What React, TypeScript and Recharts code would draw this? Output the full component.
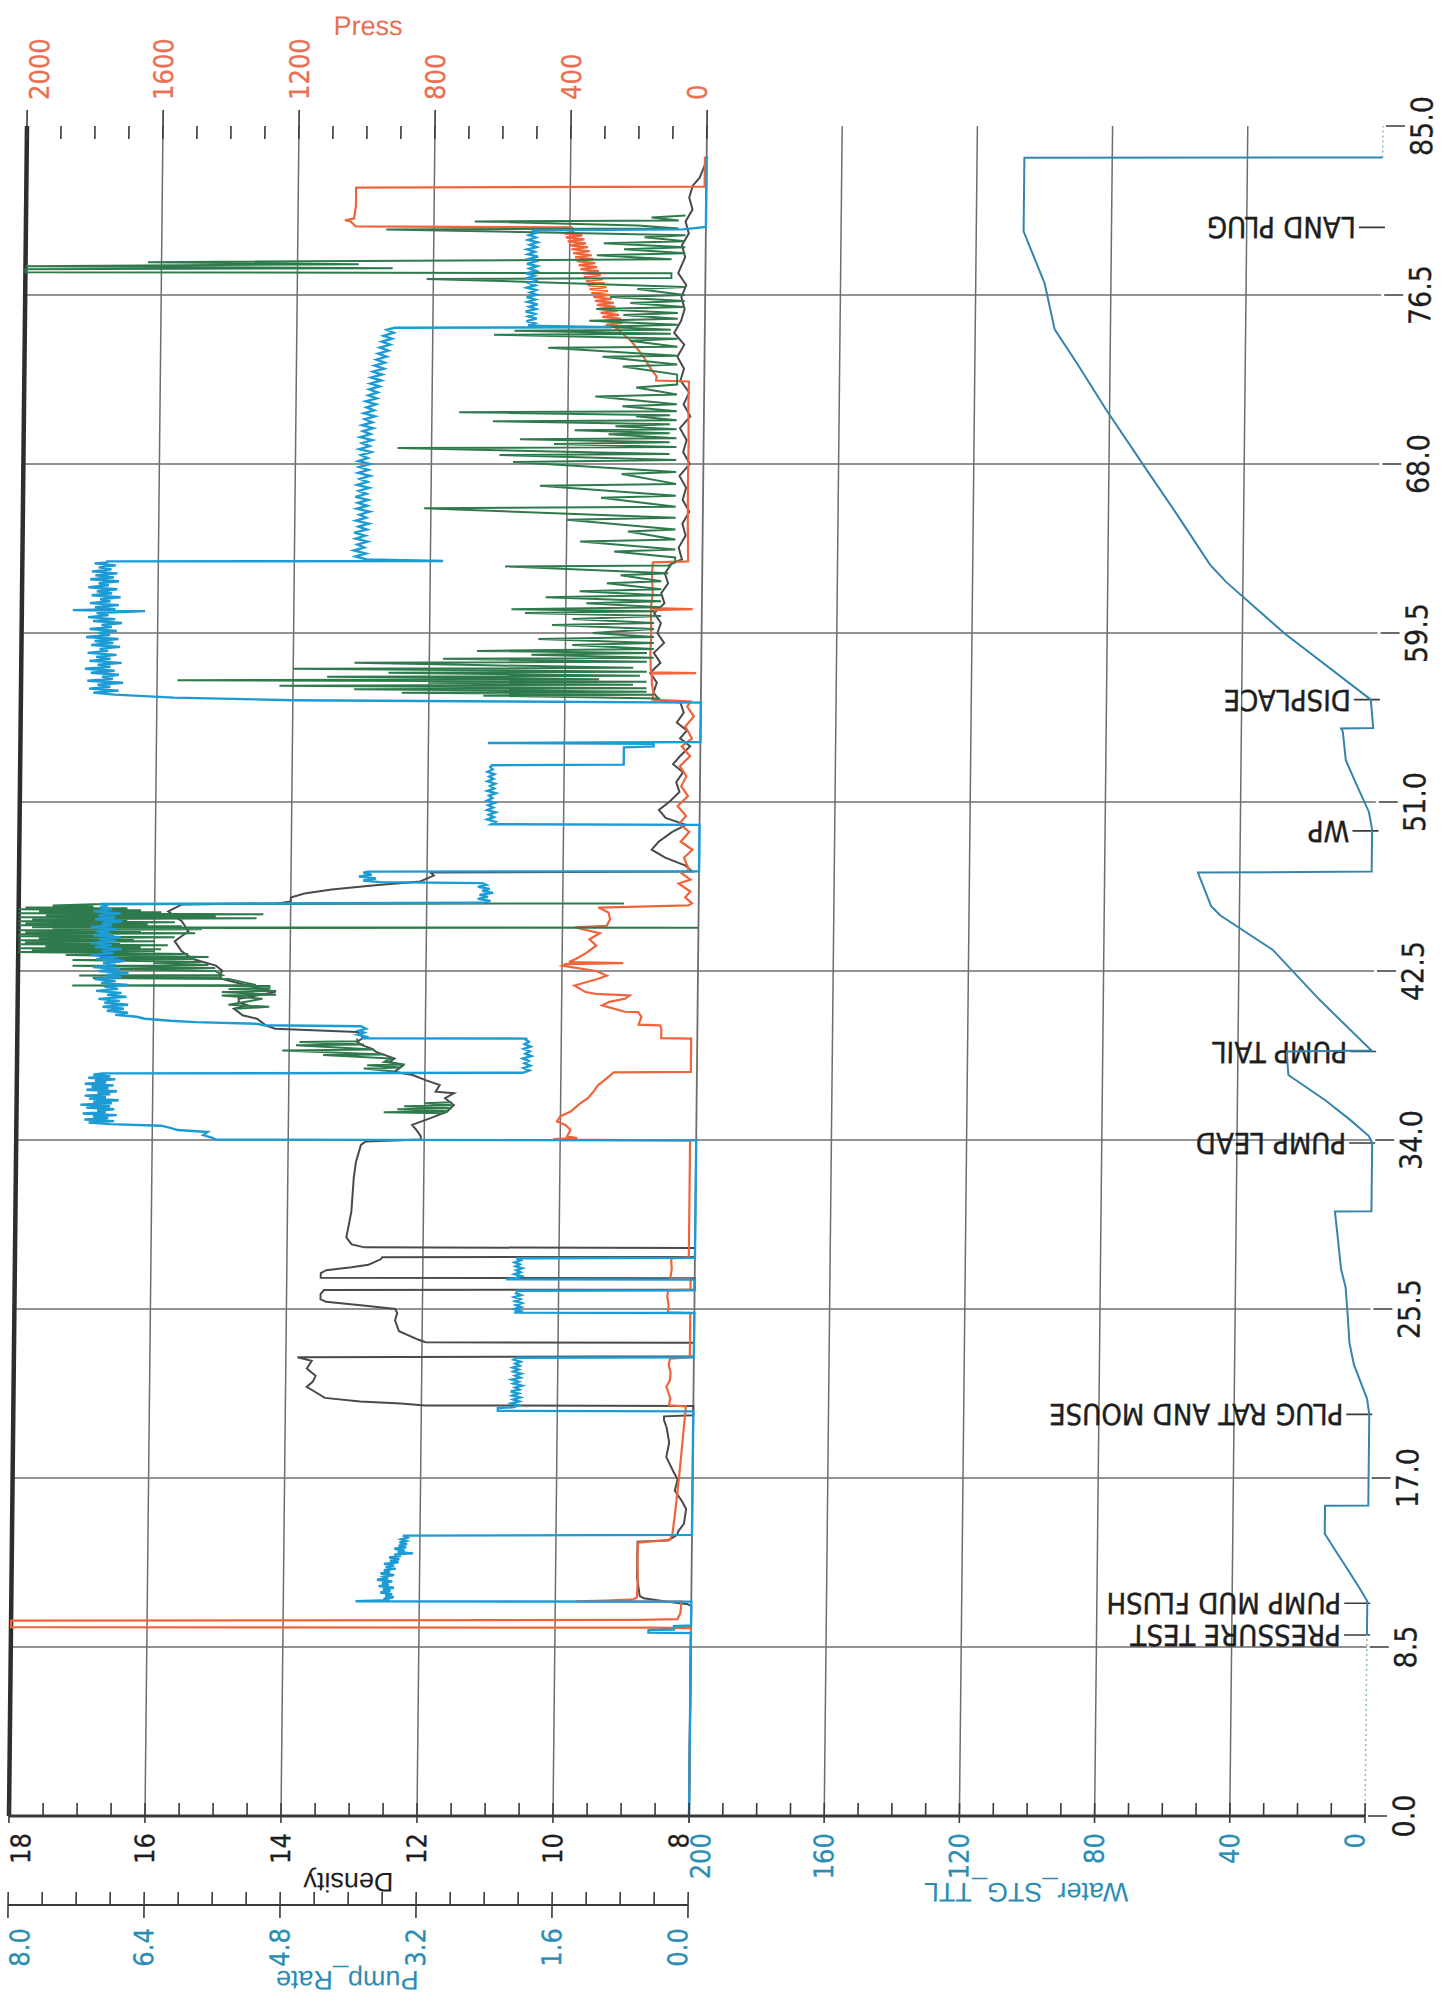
import React from "react";
import { LineChart, Line, XAxis, YAxis, ReferenceLine } from "recharts";

// ---- axes ----
const timeTicks = [0, 8.5, 17, 25.5, 34, 42.5, 51, 59.5, 68, 76.5, 85];
const gridTimes = [8.5, 17, 25.5, 34, 42.5, 51, 59.5, 68, 76.5];
const densTicks = [8, 8.5, 9, 9.5, 10, 10.5, 11, 11.5, 12, 12.5, 13, 13.5, 14, 14.5, 15, 15.5, 16, 16.5, 17, 17.5, 18];
const densGrid = [10, 12, 14, 16];
const pumpTicks = [0, 0.4, 0.8, 1.2, 1.6, 2, 2.4, 2.8, 3.2, 3.6, 4, 4.4, 4.8, 5.2, 5.6, 6, 6.4, 6.8, 7.2, 7.6, 8];
const pressTicks = [0, 100, 200, 300, 400, 500, 600, 700, 800, 900, 1000, 1100, 1200, 1300, 1400, 1500, 1600, 1700, 1800, 1900, 2000];
const waterTicks = [0, 10, 20, 30, 40, 50, 60, 70, 80, 90, 100, 110, 120, 130, 140, 150, 160, 170, 180, 190, 200];
const waterGrid = [40, 80, 120, 160];

const events = [
  { t: 9.1, label: "PRESSURE TEST" },
  { t: 10.7, label: "PUMP MUD FLUSH" },
  { t: 20.2, label: "PLUG RAT AND MOUSE" },
  { t: 33.85, label: "PUMP LEAD" },
  { t: 38.45, label: "PUMP TAIL" },
  { t: 49.55, label: "WP" },
  { t: 56.15, label: "DISPLACE" },
  { t: 79.9, label: "LAND PLUG" },
];

// ---- series: [time, value] ----
const pumpPts = [
  [0, 0], [9.2, 0], [9.22, 0.5], [9.35, 0.5], [9.38, 0.2], [9.55, 0.2], [9.58, 0], [10.78, 0],
  [10.8, 3.95], [10.86, 3.55], [10.93, 3.62], [11.0, 3.5], [11.08, 3.6], [11.16, 3.52], [11.24, 3.66], [11.32, 3.54],
  [11.4, 3.63], [11.48, 3.5], [11.56, 3.68], [11.64, 3.56], [11.72, 3.64], [11.8, 3.52], [11.88, 3.7], [11.96, 3.57],
  [12.04, 3.62], [12.12, 3.5], [12.2, 3.66], [12.28, 3.55], [12.36, 3.62], [12.44, 3.48], [12.52, 3.6], [12.6, 3.5],
  [12.68, 3.62], [12.76, 3.45], [12.84, 3.55], [12.92, 3.44], [13.0, 3.56], [13.08, 3.42], [13.16, 3.5], [13.21, 3.28],
  [13.28, 3.46], [13.36, 3.38], [13.44, 3.5], [13.52, 3.36], [13.6, 3.45], [13.68, 3.35], [13.76, 3.44], [13.84, 3.36],
  [13.92, 3.42], [14.0, 3.35], [14.1, 3.4], [14.14, 0],
  [20.35, 0], [20.38, 2.3], [20.52, 2.3], [20.56, 2.12], [20.65, 2.06], [20.75, 2.14], [20.85, 2.05], [20.95, 2.12],
  [21.05, 2.04], [21.15, 2.13], [21.25, 2.06], [21.35, 2.15], [21.45, 2.05], [21.55, 2.1], [21.65, 2.02], [21.75, 2.12],
  [21.85, 2.06], [21.95, 2.14], [22.05, 2.04], [22.15, 2.1], [22.25, 2.03], [22.35, 2.12], [22.45, 2.06], [22.55, 2.13],
  [22.65, 2.05], [22.75, 2.1], [22.85, 2.04], [22.95, 2.12], [23.05, 2.08], [23.07, 0],
  [25.3, 0], [25.32, 2.12], [25.4, 2.05], [25.5, 2.12], [25.6, 2.04], [25.7, 2.1], [25.8, 2.03], [25.9, 2.11],
  [26.0, 2.05], [26.1, 2.12], [26.2, 2.04], [26.3, 2.1], [26.42, 2.08], [26.44, 0],
  [26.98, 0], [27.0, 2.22], [27.06, 2.1], [27.15, 2.04], [27.25, 2.12], [27.35, 2.05], [27.45, 2.1], [27.55, 2.03],
  [27.65, 2.11], [27.75, 2.06], [27.85, 2.12], [27.95, 2.05], [28.05, 2.1], [28.08, 0],
  [33.98, 0], [34.02, 5.65], [34.12, 5.7], [34.25, 5.8], [34.4, 5.75], [34.5, 6.1], [34.62, 6.2], [34.72, 6.3],
  [34.8, 6.9], [34.88, 7.15], [34.95, 6.85], [35.03, 7.2], [35.1, 6.92], [35.18, 7.1], [35.25, 6.82], [35.33, 7.22],
  [35.4, 6.95], [35.48, 7.05], [35.55, 6.85], [35.63, 7.18], [35.7, 6.9], [35.78, 7.25], [35.85, 6.88], [35.93, 7.1],
  [36.0, 6.8], [36.08, 7.15], [36.15, 6.95], [36.23, 7.2], [36.3, 6.9], [36.38, 7.05], [36.45, 6.82], [36.53, 7.18],
  [36.6, 6.92], [36.68, 7.12], [36.75, 6.86], [36.83, 7.2], [36.9, 6.95], [36.98, 7.08], [37.05, 6.84], [37.13, 7.16],
  [37.2, 6.9], [37.28, 7.1], [37.35, 7.0],
  [37.38, 2.05], [37.5, 1.97], [37.62, 2.04], [37.74, 1.96], [37.86, 2.03], [37.98, 1.98], [38.1, 2.05], [38.22, 1.95],
  [38.34, 2.02], [38.46, 1.97], [38.58, 2.04], [38.7, 1.96], [38.82, 2.03], [38.94, 1.98], [39.06, 2.02], [39.1, 2.0],
  [39.12, 3.95], [39.2, 3.9], [39.3, 4.0], [39.4, 3.92], [39.5, 3.98], [39.6, 3.9], [39.72, 3.96], [39.77, 5.1],
  [39.85, 5.2], [39.93, 5.9], [40.0, 6.2], [40.1, 6.5],
  [40.2, 6.6], [40.3, 6.85], [40.4, 6.7], [40.5, 6.95], [40.6, 6.75], [40.7, 7.0], [40.8, 6.7], [40.9, 6.98],
  [41.0, 6.8], [41.1, 7.05], [41.2, 6.72], [41.3, 6.95], [41.4, 6.78], [41.5, 7.08], [41.6, 6.82], [41.7, 6.98],
  [41.8, 6.7], [41.9, 7.02], [42.0, 6.85], [42.1, 7.1], [42.2, 6.78], [42.3, 6.96], [42.4, 6.7], [42.5, 7.05],
  [42.6, 6.8], [42.7, 7.12], [42.8, 6.85], [42.9, 7.0], [43.0, 6.75], [43.1, 7.08], [43.2, 6.82], [43.3, 7.14],
  [43.4, 6.88], [43.5, 7.02], [43.6, 6.78], [43.7, 7.1], [43.8, 6.9], [43.9, 7.15], [44.0, 6.85], [44.1, 7.05],
  [44.2, 6.8], [44.3, 7.12], [44.4, 6.92], [44.5, 7.08], [44.6, 6.84], [44.7, 7.15], [44.8, 6.9], [44.9, 7.02],
  [45.0, 6.78], [45.1, 7.1], [45.2, 6.86], [45.3, 7.06], [45.4, 6.8], [45.5, 7.12], [45.6, 6.9], [45.7, 7.04],
  [45.8, 6.95], [45.87, 7.05],
  [45.93, 2.55], [46.03, 2.45], [46.13, 2.6], [46.23, 2.48], [46.33, 2.58], [46.43, 2.42], [46.53, 2.55], [46.63, 2.46],
  [46.73, 2.6], [46.83, 2.5], [46.92, 2.55], [46.97, 3.75], [47.05, 3.95], [47.15, 3.8], [47.25, 4.0], [47.35, 3.85],
  [47.45, 3.95], [47.5, 3.9], [47.52, 0],
  [49.85, 0], [49.88, 2.45], [50.0, 2.4], [50.12, 2.5], [50.24, 2.42], [50.36, 2.48], [50.48, 2.4], [50.6, 2.5],
  [50.72, 2.43], [50.84, 2.49], [50.96, 2.41], [51.08, 2.5], [51.2, 2.44], [51.32, 2.48], [51.44, 2.4], [51.56, 2.5],
  [51.68, 2.42], [51.8, 2.47], [51.92, 2.41], [52.04, 2.5], [52.16, 2.43], [52.28, 2.48], [52.4, 2.42], [52.52, 2.5],
  [52.64, 2.44], [52.76, 2.47], [52.85, 2.45], [52.88, 0.9], [53.75, 0.9], [53.8, 0.55], [53.93, 0.55], [53.97, 2.5],
  [54.02, 0],
  [56.0, 0], [56.12, 4.8], [56.25, 6.2], [56.4, 6.9], [56.5, 7.15], [56.6, 6.85], [56.7, 7.2], [56.8, 6.95],
  [56.9, 7.1], [57.0, 6.8], [57.1, 7.22], [57.2, 6.92], [57.3, 7.05], [57.4, 6.85], [57.5, 7.18], [57.6, 6.9],
  [57.7, 7.25], [57.8, 6.95], [57.9, 7.1], [58.0, 6.82], [58.1, 7.2], [58.2, 6.95], [58.3, 7.12], [58.4, 6.88],
  [58.5, 7.22], [58.6, 6.98], [58.7, 7.08], [58.8, 6.84], [58.9, 7.18], [59.0, 6.92], [59.1, 7.14], [59.2, 6.86],
  [59.3, 7.24], [59.4, 6.96], [59.5, 7.1], [59.6, 6.88], [59.7, 7.2], [59.8, 6.94], [59.9, 7.06], [60.0, 6.82],
  [60.1, 7.16], [60.2, 6.9], [60.3, 7.22], [60.4, 6.98], [60.5, 7.12], [60.6, 6.55], [60.65, 7.4], [60.7, 6.9],
  [60.8, 7.14], [60.9, 6.86], [61.0, 7.2], [61.1, 6.96], [61.2, 7.08], [61.3, 6.84], [61.4, 7.18], [61.5, 6.94],
  [61.6, 7.12], [61.7, 6.88], [61.8, 7.22], [61.9, 6.98], [62.0, 7.1], [62.1, 6.86], [62.2, 7.2], [62.3, 6.92],
  [62.4, 7.14], [62.5, 6.88], [62.6, 7.18], [62.7, 6.95], [62.8, 7.1], [62.9, 6.9], [63.0, 7.15], [63.05, 7.0],
  [63.1, 7.0], [63.12, 3.05], [63.2, 3.95], [63.35, 4.08], [63.5, 3.96], [63.65, 4.1], [63.8, 3.98], [63.95, 4.06],
  [64.1, 3.94], [64.25, 4.08], [64.4, 3.97], [64.55, 4.1], [64.7, 3.95], [64.85, 4.05], [65.0, 3.93], [65.15, 4.08],
  [65.3, 3.96], [65.45, 4.04], [65.6, 3.92], [65.75, 4.07], [65.9, 3.95], [66.05, 4.06], [66.2, 3.94], [66.35, 4.09],
  [66.5, 3.96], [66.65, 4.05], [66.8, 3.93], [66.95, 4.07], [67.1, 3.95], [67.25, 4.04], [67.4, 3.92], [67.55, 4.06],
  [67.7, 3.94], [67.85, 4.05], [68.0, 3.92], [68.15, 4.06], [68.3, 3.95], [68.45, 4.03], [68.6, 3.91], [68.75, 4.05],
  [68.9, 3.93], [69.05, 4.02], [69.2, 3.9], [69.35, 4.04], [69.5, 3.92], [69.65, 4.01], [69.8, 3.89], [69.95, 4.02],
  [70.1, 3.9], [70.25, 3.99], [70.4, 3.87], [70.55, 4.0], [70.7, 3.88], [70.85, 3.97], [71.0, 3.86], [71.15, 3.98],
  [71.3, 3.85], [71.45, 3.95], [71.6, 3.84], [71.75, 3.94], [71.9, 3.82], [72.05, 3.93], [72.2, 3.8], [72.35, 3.92],
  [72.5, 3.79], [72.65, 3.9], [72.8, 3.77], [72.95, 3.88], [73.1, 3.76], [73.25, 3.86], [73.4, 3.74], [73.55, 3.84],
  [73.7, 3.72], [73.85, 3.82], [74.0, 3.7], [74.15, 3.8], [74.3, 3.68], [74.45, 3.78], [74.6, 3.66], [74.75, 3.74],
  [74.85, 3.65], [74.88, 1.1], [74.95, 2.08], [75.07, 2.0], [75.19, 2.1], [75.31, 1.98], [75.43, 2.08], [75.55, 2.0],
  [75.67, 2.11], [75.79, 1.99], [75.91, 2.07], [76.03, 1.97], [76.15, 2.09], [76.27, 2.0], [76.39, 2.1], [76.51, 1.98],
  [76.63, 2.06], [76.75, 1.99], [76.87, 2.1], [76.99, 2.0], [77.11, 2.08], [77.23, 1.97], [77.35, 2.09], [77.47, 2.01],
  [77.59, 2.11], [77.71, 1.99], [77.83, 2.07], [77.95, 1.98], [78.07, 2.1], [78.19, 2.0], [78.31, 2.08], [78.43, 1.97],
  [78.55, 2.09], [78.67, 2.01], [78.79, 2.1], [78.91, 1.99], [79.03, 2.07], [79.15, 1.98], [79.27, 2.09], [79.39, 2.0],
  [79.51, 2.08], [79.63, 1.99], [79.75, 2.05], [79.8, 0.27], [79.92, 0], [83.45, 0],
];

const pressPts = [
  [0, 0], [9.45, 0], [9.47, 120], [9.5, 2000], [9.83, 2000], [9.86, 150], [9.9, 40], [10.2, 32], [10.5, 30], [10.78, 30],
  [10.8, 340], [10.84, 250], [10.9, 170], [11.0, 160], [12.0, 158], [13.0, 160], [13.75, 158], [13.82, 110], [13.9, 65],
  [14.14, 58], [15.0, 52], [16.0, 46], [17.0, 40], [18.0, 35], [19.0, 30], [20.0, 25], [20.6, 22], [20.66, 72],
  [21.0, 68], [21.3, 74], [21.6, 80], [21.9, 70], [22.3, 68], [22.7, 74], [23.0, 70], [23.08, 12], [25.3, 12],
  [25.33, 78], [25.7, 76], [26.1, 80], [26.44, 78], [26.47, 12], [27.0, 12], [27.03, 72], [27.5, 68], [28.05, 70],
  [28.1, 18], [33.98, 18], [34.01, 300], [34.05, 420], [34.1, 350], [34.18, 380], [34.5, 370], [34.76, 385], [34.93, 410],
  [35.2, 400], [35.43, 370], [35.8, 345], [36.1, 320], [36.4, 305], [36.76, 290], [37.1, 265], [37.4, 245], [37.43, 18],
  [39.1, 18], [39.12, 106], [39.6, 106], [39.77, 110], [39.8, 173], [40.2, 165], [40.43, 175], [40.45, 214], [40.77, 281],
  [40.95, 260], [41.1, 214], [41.27, 200], [41.35, 300], [41.44, 330], [41.77, 363], [42.1, 295], [42.27, 268], [42.5, 300],
  [42.77, 400], [42.85, 390], [42.9, 220], [42.95, 380], [43.1, 360], [43.4, 330], [43.77, 300], [44.1, 320], [44.4, 290],
  [44.69, 363], [44.77, 270], [45.1, 260], [45.44, 265], [45.69, 295], [45.8, 30], [45.9, 20], [46.2, 40], [46.5, 25],
  [46.9, 60], [47.1, 25], [47.4, 50], [47.6, 30], [48.2, 45], [48.6, 20], [49.0, 55], [49.5, 30], [49.9, 60], [50.3, 40],
  [50.8, 65], [51.3, 35], [51.8, 55], [52.3, 40], [52.8, 60], [53.3, 30], [53.8, 55], [54.2, 25], [54.8, 45], [55.3, 20],
  [55.8, 40], [56.05, 30], [56.15, 142], [56.5, 140], [57.0, 145], [57.45, 145], [57.48, 15], [57.52, 148], [58.5, 150],
  [59.5, 148], [60.65, 150], [60.7, 27], [60.75, 150], [61.5, 145], [62.5, 148], [63.05, 145], [63.1, 42], [65.0, 44],
  [67.0, 45], [69.0, 44], [71.0, 46], [72.15, 45], [72.2, 142], [72.4, 140], [72.8, 158], [73.3, 176], [73.8, 198],
  [74.2, 217], [74.6, 245], [74.87, 262],
  [74.9, 236], [75.0, 291], [75.1, 242], [75.2, 296], [75.3, 247], [75.4, 302], [75.5, 253], [75.6, 307], [75.7, 258],
  [75.8, 313], [75.9, 264], [76.0, 318], [76.1, 269], [76.2, 324], [76.3, 275], [76.4, 329], [76.5, 280], [76.6, 335],
  [76.7, 286], [76.8, 340], [76.9, 291], [77.0, 346], [77.1, 297], [77.2, 351], [77.3, 302], [77.4, 357], [77.5, 308],
  [77.6, 362], [77.7, 313], [77.8, 368], [77.9, 319], [78.0, 373], [78.1, 324], [78.2, 379], [78.3, 330], [78.4, 384],
  [78.5, 335], [78.6, 390], [78.7, 341], [78.8, 395], [78.9, 346], [79.0, 401], [79.1, 352], [79.2, 406], [79.3, 357],
  [79.4, 412], [79.5, 363], [79.6, 416], [79.7, 390], [79.9, 395], [79.95, 1030], [80.2, 1045], [80.26, 1062],
  [80.35, 1035], [81.0, 1030], [81.9, 1030], [81.95, 5], [83.45, 5],
];

const densPts = [
  [0, 8], [10.55, 8], [10.65, 8.05], [10.8, 8.4], [10.95, 8.7], [11.07, 8.76], [12.0, 8.8], [13.0, 8.8], [13.8, 8.8],
  [13.86, 8.35], [14.14, 8.22], [14.33, 8.2], [14.7, 8.12], [15.44, 8.09], [15.82, 8.15], [16.37, 8.26], [16.93, 8.22],
  [17.3, 8.28], [18.05, 8.39], [18.79, 8.35], [19.54, 8.39], [19.91, 8.43], [20.1, 8.43], [20.15, 8], [20.62, 8],
  [20.65, 11.95], [20.75, 12.3], [20.85, 12.9], [21.03, 13.42], [21.3, 13.55], [21.58, 13.69], [21.85, 13.6], [22.14, 13.56],
  [22.51, 13.69], [22.89, 13.62], [23.07, 13.83], [23.12, 8], [23.8, 8], [23.83, 11.95], [23.95, 12.05], [24.38, 12.34],
  [24.93, 12.4], [25.31, 12.37], [25.5, 12.4], [25.65, 12.8], [25.86, 13.42], [26.0, 13.5], [26.25, 13.5], [26.45, 13.45],
  [26.48, 8], [27.05, 8], [27.07, 13.5], [27.3, 13.5], [27.45, 13.42], [27.6, 13.05], [27.73, 12.8], [28.0, 12.62],
  [28.1, 12.6], [28.13, 8], [28.57, 8], [28.6, 12.86], [28.75, 13.05], [29.1, 13.13], [30.4, 13.06], [32.1, 13.03],
  [32.9, 13.0], [33.75, 12.93], [33.93, 12.86], [34.02, 12.05], [34.18, 12.05], [34.43, 12.1], [34.76, 12.18], [35.1, 11.91],
  [35.43, 11.67], [35.76, 11.57], [36.1, 11.7], [36.35, 11.57], [36.43, 11.84], [36.76, 11.78], [37.0, 11.98], [37.27, 12.18],
  [37.43, 12.45], [37.6, 12.38], [37.76, 12.32], [37.93, 12.52], [38.1, 12.45], [38.27, 12.59], [38.43, 12.72], [38.6, 12.79],
  [38.77, 12.93], [38.93, 13.0], [39.1, 12.93], [39.27, 12.93], [39.43, 13.0], [39.6, 14.21], [39.77, 14.35], [39.93, 14.41],
  [40.1, 14.48], [40.27, 14.69], [40.43, 14.75], [40.6, 14.82], [40.77, 14.62], [40.93, 14.75], [41.1, 14.75], [41.44, 14.21],
  [41.77, 14.62], [42.1, 15.0], [42.27, 15.03], [42.52, 15.0], [42.77, 15.09], [43.1, 15.43], [43.5, 15.6], [44.0, 15.7],
  [44.5, 15.5], [45.0, 15.6], [45.5, 15.8], [45.85, 15.6], [45.9, 14.2], [46.0, 14.0], [46.2, 14.0], [46.4, 13.8],
  [46.6, 13.4], [46.8, 12.8], [47.0, 12.1], [47.3, 11.9], [47.45, 11.95], [47.5, 8.1], [47.8, 8.2], [48.2, 8.5],
  [48.6, 8.7], [49.0, 8.6], [49.5, 8.4], [49.85, 8.2], [50.2, 8.5], [50.6, 8.6], [51.0, 8.45], [51.5, 8.3], [52.0, 8.35],
  [52.5, 8.25], [52.9, 8.4], [53.3, 8.3], [53.8, 8.15], [54.2, 8.3], [54.6, 8.2], [55.0, 8.35], [55.5, 8.25], [56.0, 8.3],
  [56.1, 8.6], [56.5, 8.7], [57.0, 8.65], [57.5, 8.75], [58.0, 8.6], [58.5, 8.7], [59.0, 8.55], [59.5, 8.65], [60.0, 8.6],
  [60.5, 8.7], [61.0, 8.55], [61.5, 8.6], [62.0, 8.5], [62.5, 8.55], [63.0, 8.45], [63.2, 8.3], [63.8, 8.35], [64.4, 8.25],
  [65.0, 8.3], [65.6, 8.2], [66.2, 8.3], [66.8, 8.25], [67.4, 8.35], [68.0, 8.2], [68.6, 8.3], [69.2, 8.25], [69.8, 8.35],
  [70.4, 8.2], [71.0, 8.3], [71.6, 8.22], [72.2, 8.35], [72.8, 8.3], [73.4, 8.4], [74.0, 8.3], [74.6, 8.45], [75.2, 8.35],
  [75.8, 8.3], [76.4, 8.35], [77.0, 8.28], [77.6, 8.4], [78.4, 8.3], [79.0, 8.35], [79.6, 8.25], [80.2, 8.3], [80.8, 8.2],
  [81.4, 8.25], [82.0, 8.2], [82.4, 8.1], [83.0, 8.03], [83.45, 8.0],
];

const greenPts = [
  [35.35, 11.7], [35.4, 12.6], [35.45, 11.65], [35.55, 12.4], [35.6, 11.6], [35.7, 12.3], [35.75, 11.6], [35.85, 12.0], [35.9, 11.6], [35.92, null],
  [37.45, 12.45], [37.6, 12.9], [37.65, 12.35], [37.76, 12.85], [37.8, 12.3], [37.93, 12.6], [38.1, 12.5], [38.27, 13.5],
  [38.3, 12.6], [38.5, 14.1], [38.55, 12.75], [38.77, 13.9], [38.8, 12.9], [38.93, 13.85], [38.97, 13.0], [39.1, 13.0], [39.12, null],
  [40.6, 14.8], [40.7, 14.3], [40.8, 14.9], [41.1, 14.4], [41.27, 15.0], [41.3, 14.2], [41.44, 15.0], [41.5, 14.2], [41.6, 14.9], [41.65, 14.3],
  [41.75, 14.3], [41.77, 17.2], [41.8, 14.5], [42.1, 14.9], [42.15, 16.9], [42.2, 15.0], [42.27, 17.1], [42.3, 15.0],
  [42.5, 15.1], [42.6, 16.6], [42.65, 15.1], [42.77, 17.2], [42.8, 15.2], [42.9, 16.0], [42.95, 15.3], [43.05, 17.2],
  [43.1, 15.4], [43.15, 16.8], [43.2, 15.2], [43.3, 17.3], [43.35, 15.5], [43.45, 18.0], [43.5, 16.0], [43.55, 17.8],
  [43.6, 15.9], [43.65, 18.0], [43.7, 16.2], [43.75, 17.6], [43.8, 15.8], [43.85, 18.0], [43.9, 16.5], [43.95, 17.9],
  [44.0, 16.0], [44.05, 18.0], [44.1, 16.3], [44.15, 17.7], [44.2, 15.7], [44.25, 18.0], [44.3, 16.6], [44.35, 18.0],
  [44.4, 15.4], [44.45, 17.9], [44.5, 16.2], [44.55, 18.0], [44.6, 15.3], [44.65, 17.5], [44.68, 8.0], [44.7, 17.8],
  [44.75, 15.6], [44.8, 18.0], [44.85, 16.1], [44.9, 17.9], [44.95, 15.7], [45.0, 18.0], [45.05, 16.4], [45.1, 17.8],
  [45.15, 14.5], [45.2, 18.0], [45.25, 15.1], [45.3, 17.6], [45.35, 14.4], [45.4, 18.0], [45.45, 15.9], [45.5, 17.7],
  [45.55, 16.2], [45.6, 18.0], [45.65, 16.4], [45.7, 17.9], [45.75, 16.9], [45.8, 17.5], [45.86, 16.9], [45.9, 9.1], [45.92, null],
  [56.2, 8.6], [56.35, 11.2], [56.4, 8.7], [56.5, 12.4], [56.55, 8.8], [56.67, 13.1], [56.72, 8.8], [56.85, 14.2],
  [56.9, 9.0], [57.0, 12.0], [57.05, 8.8], [57.12, 15.7], [57.18, 9.5], [57.3, 13.5], [57.35, 8.9], [57.5, 12.6],
  [57.55, 8.8], [57.7, 14.0], [57.75, 9.0], [57.9, 11.5], [58.0, 13.1], [58.05, 8.8], [58.2, 11.8], [58.25, 8.7],
  [58.4, 10.5], [58.5, 8.8], [58.6, 11.3], [58.7, 8.7], [58.9, 9.9], [59.0, 8.7], [59.2, 10.4], [59.3, 8.7],
  [59.5, 9.6], [59.7, 8.7], [59.9, 10.2], [60.0, 8.7], [60.2, 9.9], [60.35, 8.6], [60.5, 10.6], [60.6, 8.7],
  [60.7, 10.8], [60.8, 8.6], [61.0, 9.7], [61.1, 8.6], [61.3, 10.3], [61.4, 8.6], [61.6, 9.8], [61.7, 8.6],
  [62.0, 9.4], [62.1, 8.6], [62.4, 9.2], [62.5, 8.5], [62.85, 10.9], [62.9, 8.5], [63.05, 8.4],
  [63.3, 8.4], [63.6, 9.3], [63.7, 8.4], [64.1, 9.8], [64.2, 8.4], [64.6, 9.1], [64.7, 8.4], [65.2, 10.0], [65.3, 8.4],
  [65.77, 12.1], [65.85, 8.4], [66.3, 9.5], [66.4, 8.4], [66.9, 10.4], [67.0, 8.4], [67.5, 9.2], [67.6, 8.4],
  [68.1, 10.8], [68.2, 8.4], [68.45, 11.0], [68.5, 8.5], [68.8, 12.5], [68.85, 8.4], [69.0, 10.2], [69.1, 8.5],
  [69.25, 10.7], [69.3, 8.4], [69.5, 9.4], [69.55, 8.5], [69.7, 9.9], [69.75, 8.4], [69.9, 9.3], [70.0, 8.5],
  [70.15, 11.1], [70.2, 8.4], [70.4, 9.0], [70.45, 8.5], [70.6, 11.6], [70.65, 8.4], [70.9, 9.2], [71.0, 8.4],
  [71.4, 9.6], [71.5, 8.4], [71.85, 9.0], [72.0, 8.4],
  [72.5, 8.4], [72.9, 9.2], [73.0, 8.4], [73.4, 9.5], [73.45, 8.4], [73.85, 10.3], [73.9, 8.4], [74.2, 9.1], [74.3, 8.4],
  [74.5, 11.1], [74.55, 8.5], [74.7, 10.8], [74.75, 8.5], [74.9, 9.5], [75.0, 8.4], [75.2, 9.7], [75.3, 8.4],
  [75.5, 9.2], [75.6, 8.4], [75.8, 9.6], [75.9, 8.3], [76.1, 9.1], [76.2, 8.3], [76.4, 9.4], [76.5, 8.3],
  [76.8, 9.0], [76.9, 8.3], [77.2, 11.0], [77.3, 12.1], [77.35, 8.5], [77.6, 8.5], [77.65, 18.0], [77.8, 18.0],
  [77.85, 12.6], [77.95, 18.0], [78.05, 13.1], [78.15, 16.2], [78.3, 8.5], [78.5, 9.6], [78.6, 8.3], [78.8, 9.2],
  [78.9, 8.3], [79.1, 9.5], [79.2, 8.3], [79.4, 8.9], [79.5, 8.3], [79.8, 12.7], [79.85, 8.4], [80.0, 9.0],
  [80.2, 11.4], [80.25, 8.4], [80.4, 8.8], [80.5, 8.3],
];

const waterPts = [
  [9.1, 0], [10.8, 0], [11.5, 2.5], [12.3, 5.5], [13.2, 9.0], [14.2, 12.8], [15.6, 12.8], [15.62, 0], [20.2, 0],
  [20.98, 0.7], [22.7, 4.7], [23.8, 6.1], [25.2, 6.7], [26.6, 7.4], [27.5, 8.8], [29.4, 10.1], [30.4, 10.8], [30.42, 0],
  [33.85, 0], [34.2, 1], [35.0, 6.5], [36.0, 14.0], [37.27, 25], [38.28, 25.5], [38.45, 25.5], [38.5, 0.5],
  [41.05, 16], [43.56, 30], [45.3, 45.7], [45.76, 48.4], [47.45, 52.4], [47.5, 1], [49.6, 1], [50.5, 2], [51.96, 6],
  [53.1, 9], [54.56, 10], [54.7, 10.5], [54.72, 1], [56.15, 1.8], [59.47, 27.5], [62.07, 45], [62.94, 49.8],
  [65.53, 60], [67.84, 69.4], [70.73, 81], [73.04, 89.7], [74.77, 96.5], [77.08, 99.6], [79.7, 106], [83.4, 106],
  [83.42, 0],
];

// idle stretches of the water trace (drawn dotted)
const waterIdlePts = [[0, 0], [9.1, 0], [9.2, null], [83.42, 0], [85, 0]];

// ---- style ----
const AXIS = "#3a3a3a";
const GRID = "#6e6e6e";
const PRESS = "#f0643c";
const PUMP = "#1c9bd4";
const DENS = "#4a4a4a";
const GREEN = "#2f7a4c";
const WATER = "#3585ab";
const PRESS_TXT = "#ea6f52";
const TEAL_TXT = "#2b8db3";
const NARROW = "'Liberation Sans Narrow', 'Arial Narrow', 'DejaVu Sans Condensed', sans-serif";
const REG = "'Liberation Sans', Arial, sans-serif";

const rows = (pts: any[]) => pts.map(([t, v]) => ({ t, v }));

const isMult = (v: number, step: number) => Math.abs(v / step - Math.round(v / step)) < 1e-6;

function valueTick(step: number, min: number, max: number, color: string, side: "left" | "right", digits: number, cross: number) {
  return (props: any) => {
    const { x, y, payload } = props;
    const v = payload.value as number;
    const major = isMult(v, step);
    const dir = side === "left" ? 1 : -1; // toward the plot
    const nudge = v === max ? 12 : v === min ? -10 : 0;
    return (
      <g>
        <line x1={x} x2={x + dir * 13} y1={y} y2={y} stroke={AXIS} strokeWidth={1.6} />
        {major && <line x1={x} x2={x - dir * cross} y1={y} y2={y} stroke={AXIS} strokeWidth={1.6} />}
        {major && (
          <text
            x={x - dir * (cross + 10)}
            y={y + nudge}
            textAnchor={side === "left" ? "end" : "start"}
            dominantBaseline="central"
            fontFamily={NARROW}
            fontSize={27}
            fill={color}
            stroke={color}
            strokeWidth={0.3}
          >
            {digits ? v.toFixed(digits) : String(v)}
          </text>
        )}
      </g>
    );
  };
}

const DensTick = valueTick(2, 8, 18, "#1e1e1e", "left", 0, 7);
const PumpTick = valueTick(1.6, 0, 8, TEAL_TXT, "left", 1, 13);
const WaterTick = valueTick(40, 0, 200, TEAL_TXT, "left", 0, 7);
const PressTick = valueTick(400, 0, 2000, PRESS_TXT, "right", 0, 16);

const TimeTick = (props: any) => {
  const { x, y, payload } = props;
  return (
    <g>
      <line x1={x} x2={x} y1={y + 3} y2={y + 22} stroke={AXIS} strokeWidth={1.6} />
      <text x={x} y={y + 27} textAnchor="middle" dominantBaseline="hanging" fontFamily={NARROW} fontSize={30} fill="#1e1e1e" stroke="#1e1e1e" strokeWidth={0.3}>
        {(payload.value as number).toFixed(1)}
      </text>
    </g>
  );
};

// axis title; the props are named so that the Label defaults do not override them
const AxisTitle = (props: any) => {
  const { viewBox, title, shift, turn, tint } = props;
  if (!viewBox) return null;
  const cx = viewBox.x + shift;
  const cy = viewBox.y + viewBox.height / 2;
  return (
    <text x={cx} y={cy} transform={`rotate(${turn} ${cx} ${cy})`} textAnchor="middle" dominantBaseline="central" fontFamily={REG} fontSize={27} fill={tint}>
      {title}
    </text>
  );
};

const EventLabel = (props: any) => {
  const { viewBox, title } = props;
  if (!viewBox) return null;
  const x = viewBox.x;
  const yb = viewBox.y + viewBox.height;
  const ty = yb - 26;
  return (
    <g>
      <line x1={x} x2={x} y1={yb - 23} y2={yb + 3} stroke={AXIS} strokeWidth={1.6} />
      <text x={x} y={ty} transform={`rotate(-90 ${x} ${ty})`} textAnchor="start" dominantBaseline="central" fontFamily={NARROW} fontSize={29} fill="#1e1e1e" stroke="#1e1e1e" strokeWidth={0.4}>
        {title}
      </text>
    </g>
  );
};

export default function App() {
  return (
    <div style={{ position: "absolute", left: 0, top: 0, width: 1445, height: 2007, overflow: "hidden", background: "#fff" }}>
      <div style={{ position: "absolute", left: 0, top: 0, width: 1445, height: 2007, transform: "skewX(-0.61deg)", transformOrigin: "0px 1816px" }}>
        <div style={{ position: "absolute", left: 0, top: 0, width: 2007, height: 1445, transform: "translateY(2007px) rotate(-90deg)", transformOrigin: "0 0" }}>
          {/* upper panel: density, pump rate, pressure */}
          <div style={{ position: "absolute", left: 0, top: 0 }}>
            <LineChart width={2007} height={700} margin={{ top: 9, right: 0, bottom: 11, left: 0 }}>
              <XAxis xAxisId="t" type="number" dataKey="t" domain={[0, 85]} ticks={timeTicks} hide allowDataOverflow />
              <YAxis
                yAxisId="dens" orientation="left" type="number" domain={[8, 18]} ticks={densTicks} interval={0} width={89}
                tickSize={0} tickMargin={0} tickLine={false} axisLine={{ stroke: AXIS, strokeWidth: 3 }} tick={<DensTick />}
                label={<AxisTitle title="Density" shift={23} turn={-90} tint="#1e1e1e" />}
              />
              <YAxis
                yAxisId="pump" orientation="left" type="number" domain={[0, 8]} ticks={pumpTicks} interval={0} width={102}
                tickSize={0} tickMargin={0} tickLine={false} axisLine={{ stroke: AXIS, strokeWidth: 2 }} tick={<PumpTick />}
                label={<AxisTitle title="Pump_Rate" shift={27} turn={-90} tint={TEAL_TXT} />}
              />
              <YAxis
                yAxisId="press" orientation="right" type="number" domain={[0, 2000]} ticks={pressTicks} interval={0} width={126}
                tickSize={0} tickMargin={0} tickLine={false} axisLine={false} tick={<PressTick />}
                label={<AxisTitle title="Press" shift={100} turn={90} tint={PRESS_TXT} />}
              />
              {gridTimes.map((t) => (
                <ReferenceLine key={`gt${t}`} xAxisId="t" yAxisId="dens" x={t} stroke={GRID} strokeWidth={1.5} />
              ))}
              {densGrid.map((v) => (
                <ReferenceLine key={`gd${v}`} xAxisId="t" yAxisId="dens" y={v} stroke={GRID} strokeWidth={1.5} />
              ))}
              <ReferenceLine xAxisId="t" yAxisId="dens" y={8} stroke={GRID} strokeWidth={1.8} />
              <ReferenceLine xAxisId="t" yAxisId="dens" y={18} stroke="#2e2e2e" strokeWidth={4.5} />
              <Line xAxisId="t" yAxisId="dens" data={rows(densPts)} dataKey="v" type="linear" stroke={DENS} strokeWidth={2} dot={false} isAnimationActive={false} />
              <Line xAxisId="t" yAxisId="press" data={rows(pressPts)} dataKey="v" type="linear" stroke={PRESS} strokeWidth={2.2} dot={false} isAnimationActive={false} />
              <Line xAxisId="t" yAxisId="dens" data={rows(greenPts)} dataKey="v" type="linear" stroke={GREEN} strokeWidth={2} dot={false} isAnimationActive={false} connectNulls={false} />
              <Line xAxisId="t" yAxisId="pump" data={rows(pumpPts)} dataKey="v" type="linear" stroke={PUMP} strokeWidth={2.4} dot={false} isAnimationActive={false} />
            </LineChart>
          </div>
          {/* lower panel: water */}
          <div style={{ position: "absolute", left: 0, top: 689 }}>
            <LineChart width={2007} height={746} margin={{ top: 0, right: 126, bottom: 0, left: 0 }}>
              <XAxis
                xAxisId="t" type="number" dataKey="t" domain={[0, 85]} ticks={timeTicks} interval={0} height={70}
                axisLine={false} tickLine={false} tickSize={0} tickMargin={0} tick={<TimeTick />} allowDataOverflow
              />
              <YAxis
                yAxisId="water" orientation="left" type="number" domain={[0, 200]} ticks={waterTicks} interval={0} width={191}
                tickSize={0} tickMargin={0} tickLine={false} axisLine={{ stroke: AXIS, strokeWidth: 3 }} tick={<WaterTick />}
                label={<AxisTitle title="Water_STG_TTL" shift={115} turn={-90} tint={TEAL_TXT} />}
              />
              {gridTimes.map((t) => (
                <ReferenceLine key={`wt${t}`} xAxisId="t" yAxisId="water" x={t} stroke={GRID} strokeWidth={1.5} />
              ))}
              {waterGrid.map((v) => (
                <ReferenceLine key={`wg${v}`} xAxisId="t" yAxisId="water" y={v} stroke={GRID} strokeWidth={1.5} />
              ))}
              {events.map((e) => (
                <ReferenceLine key={e.label} xAxisId="t" yAxisId="water" x={e.t} stroke="none" label={<EventLabel title={e.label} />} />
              ))}
              <Line xAxisId="t" yAxisId="water" data={rows(waterIdlePts)} dataKey="v" type="linear" stroke="#8fb8cc" strokeWidth={1.5} strokeDasharray="2 3" dot={false} isAnimationActive={false} connectNulls={false} />
              <Line xAxisId="t" yAxisId="water" data={rows(waterPts)} dataKey="v" type="linear" stroke={WATER} strokeWidth={2} dot={false} isAnimationActive={false} />
            </LineChart>
          </div>
        </div>
      </div>
    </div>
  );
}
